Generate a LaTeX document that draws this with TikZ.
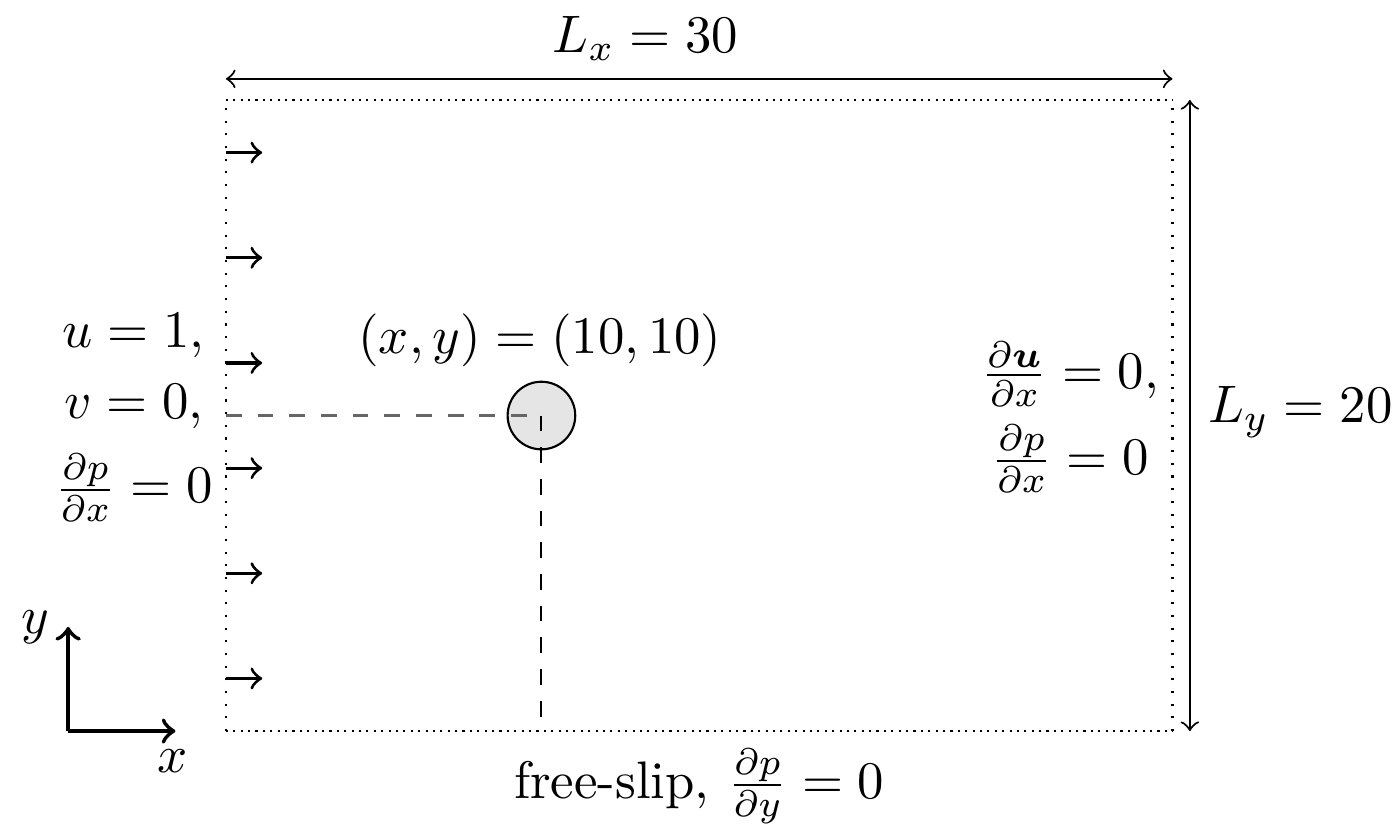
\documentclass[tikz,border=0pt]{standalone}
\usepackage{amsmath}
\usepackage{amssymb}
\usepackage{bm}
\usepackage{tikz}
\usetikzlibrary{positioning,calc}

\begin{document}
\begin{tikzpicture}[
    x=0.21cm, y=0.21cm,
    dim/.style={<->, thin},
    inflow/.style={->, semithick},
    axis/.style={->, thick},
    guide/.style={dashed, thin}
]
    \useasboundingbox (-7.16,-2.95) rectangle (37.18,23.17);
    % domain corners
    \coordinate (sw) at (0,0);
    \coordinate (se) at (30,0);
    \coordinate (ne) at (30,20);
    \coordinate (nw) at (0,20);
    \draw[densely dotted, thin] (sw) -- (se);
    \draw[densely dotted, thin] (nw) -- (ne);
    \draw[dotted] (sw) -- (nw);
    \draw[dotted] (se) -- (ne);

    % dimensions
    \coordinate (lxl) at (0,20.67);
    \coordinate (lxr) at (30,20.67);
    \coordinate (lyt) at (30.55,20);
    \coordinate (lyb) at (30.55,0);
    \draw[dim] (lxl) -- (lxr);
    \draw[dim] (lyb) -- (lyt);
    \node (lx) at (13.3,21.95) {$L_x = 30$};
    \node (ly) at (34.05,10.1) {$L_y = 20$};

    % inflow arrows
    \foreach \k in {0,...,5} {
        \coordinate (in\k) at (0,{20/6*(\k+0.5)});
        \coordinate (out\k) at (1.15,{20/6*(\k+0.5)});
        \draw[inflow] (in\k) -- (out\k);
    }

    % cylinder
    \node[circle, draw, fill=black!10, minimum size=0.45cm, inner sep=0pt] (cyl) at (10,10) {};
    \coordinate (wall) at (0,10);
    \coordinate (floor) at (10,0);
    \draw[guide, black!60] (wall) -- (cyl.center);
    \draw[guide] (cyl.center) -- (floor);
    \node (pos) at (9.95,12.4) {$(x,y) = (10,10)$};

    % boundary conditions
    \node[align=center] (inlet) at (-2.92,9.95) {$u = 1,$\\[1.5pt] $v = 0,$\\[4pt] $\frac{\partial p}{\partial x} = 0$};
    \node[align=center] (outlet) at (26.75,9.95) {$\frac{\partial \bm{u}}{\partial x} = 0,$\\[2.5pt] $\frac{\partial p}{\partial x} = 0$};
    \node (wallbc) at (15,-1.75) {free-slip, $\frac{\partial p}{\partial y} = 0$};

    % axes
    \coordinate (o) at (-5,0);
    \coordinate (ytip) at (-5,3.3);
    \coordinate (xtip) at (-1.6,0);
    \draw[axis] (o) -- (ytip);
    \draw[axis] (o) -- (xtip);
    \node (ylab) at (-6.05,3.3) {$y$};
    \node (xlab) at (-1.7,-0.95) {$x$};
\end{tikzpicture}
\end{document}
